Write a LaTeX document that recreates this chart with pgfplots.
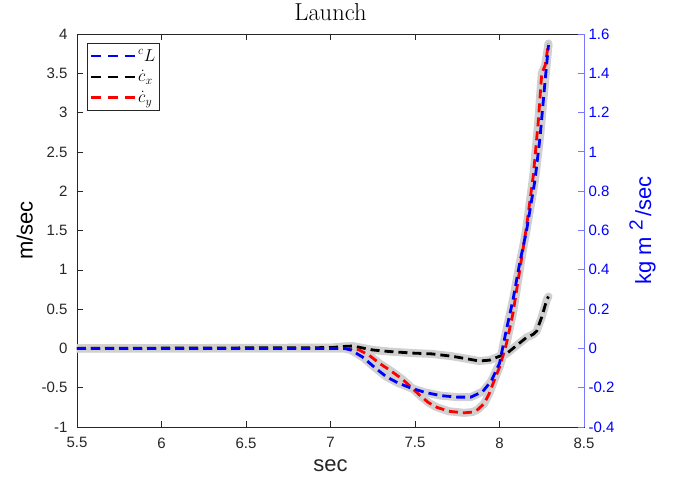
\documentclass[border=0pt]{standalone}
\usepackage{fontspec}
\setsansfont{Liberation Sans}
\usepackage{pgfplots}
\usepackage{pgfplotstable}
\pgfplotsset{compat=1.18}

\definecolor{axgray}{RGB}{38,38,38}
\definecolor{lightline}{RGB}{208,208,208}
\definecolor{paleblue}{RGB}{120,120,255}

% cL, right axis units (kg m^2/sec)
\pgfplotstableread{
x     y
5.50  0
7.08  0
7.12  -0.008
7.19  -0.044
7.26  -0.096
7.33  -0.144
7.40  -0.176
7.47  -0.200
7.56  -0.224
7.65  -0.240
7.75  -0.248
7.83  -0.248
7.90  -0.220
7.95  -0.168
8.00  -0.076
8.04  0.092
8.08  0.248
8.12  0.436
8.16  0.600
8.21  0.856
8.24  1.076
8.27  1.364
8.29  1.544
}\cLdata

% cdot x, m/sec
\pgfplotstableread{
x     y
5.50  0
7.00  0.01
7.08  0.025
7.13  0.03
7.18  0.01
7.25  -0.02
7.35  -0.04
7.49  -0.06
7.60  -0.07
7.72  -0.10
7.80  -0.13
7.88  -0.16
7.94  -0.15
8.00  -0.10
8.04  -0.07
8.08  0.00
8.12  0.07
8.16  0.14
8.20  0.18
8.22  0.22
8.25  0.40
8.28  0.62
8.29  0.66
}\cxdata

% cdot y, m/sec
\pgfplotstableread{
x     y
5.50  0
7.12  0
7.17  -0.02
7.23  -0.09
7.29  -0.19
7.36  -0.29
7.43  -0.40
7.48  -0.50
7.53  -0.60
7.58  -0.69
7.63  -0.75
7.70  -0.80
7.79  -0.82
7.84  -0.81
7.87  -0.78
7.91  -0.70
7.94  -0.57
7.97  -0.40
8.00  -0.24
8.04  0.05
8.08  0.45
8.12  1.00
8.16  1.55
8.20  2.20
8.23  2.90
8.25  3.50
8.27  3.60
8.29  3.88
}\cydata

\begin{document}
\begin{tikzpicture}
\pgfplotsset{
  every axis/.append style={
    width=507pt, height=393pt, scale only axis,
    xmin=5.5, xmax=8.5,
    xtick={5.5,6,6.5,7,7.5,8,8.5},
    tick align=inside, major tick length=6pt,
    /pgf/number format/assume math mode=true,
    tick label style={font=\fontsize{15}{16}\sffamily},
    label style={font=\fontsize{22}{23}\sffamily},
  },
  shadeline/.style={lightline, line width=8pt, line join=round, line cap=round, forget plot},
  dashline/.style={line width=2.8pt, dash pattern=on 9pt off 5pt},
}
\begin{axis}[
  ymin=-1, ymax=4,
  ytick={-1,-0.5,0,0.5,1,1.5,2,2.5,3,3.5,4},
  xtick pos=both, ytick pos=left,
  axis line style={axgray, line width=0.6pt},
  tick style={axgray, line width=0.6pt},
  tick label style={text=axgray},
  x tick label style={yshift=-7pt},
  y tick label style={xshift=-6pt},
  xlabel={sec}, ylabel={m/sec},
  xlabel style={text=axgray, yshift=-5pt},
  ylabel style={text=black, yshift=2pt},
  title={Launch},
  title style={font=\fontsize{24.5}{26}\selectfont, yshift=4pt},
  legend style={at={(0.02,0.977)}, anchor=north west,
    draw=axgray, line width=0.6pt, font=\fontsize{16.5}{17}\selectfont,
    inner xsep=2pt, inner ysep=4pt, row sep=4pt,
    cells={anchor=west}},
  legend image code/.code={\draw[#1, dash pattern=on 10pt off 7pt] (0pt,0pt) -- (44pt,0pt);},
]
  \addplot[shadeline] table[x=x, y expr=\thisrow{y}*2.5] {\cLdata};
  \addplot[shadeline] table[x=x, y=y] {\cxdata};
  \addplot[shadeline] table[x=x, y=y] {\cydata};
  \addlegendimage{blue, line width=2.8pt}
  \addlegendentry{$^cL$}
  \addplot[black, dashline] table[x=x, y=y] {\cxdata};
  \addlegendentry{$\dot{c}_x$}
  \addplot[red, dashline] table[x=x, y=y] {\cydata};
  \addlegendentry{$\dot{c}_y$}
\end{axis}
\begin{axis}[
  ymin=-0.4, ymax=1.6,
  ytick={-0.4,-0.2,0,0.2,0.4,0.6,0.8,1,1.2,1.4,1.6},
  axis y line*=right, axis x line=none,
  axis line style={paleblue, line width=0.8pt},
  tick style={paleblue, line width=0.8pt},
  y tick label style={text=blue, xshift=1pt},
  ylabel={kg m \raisebox{0.75ex}{\fontsize{19}{19}\selectfont 2}\,/sec},
  ylabel style={text=blue, yshift=-8pt},
]
  \addplot[blue, dashline] table[x=x, y=y] {\cLdata};
\end{axis}
\pgfresetboundingbox
\path (current axis.south west) ++(-77pt,-58pt) rectangle ++(685pt,485pt);
\end{tikzpicture}
\end{document}
